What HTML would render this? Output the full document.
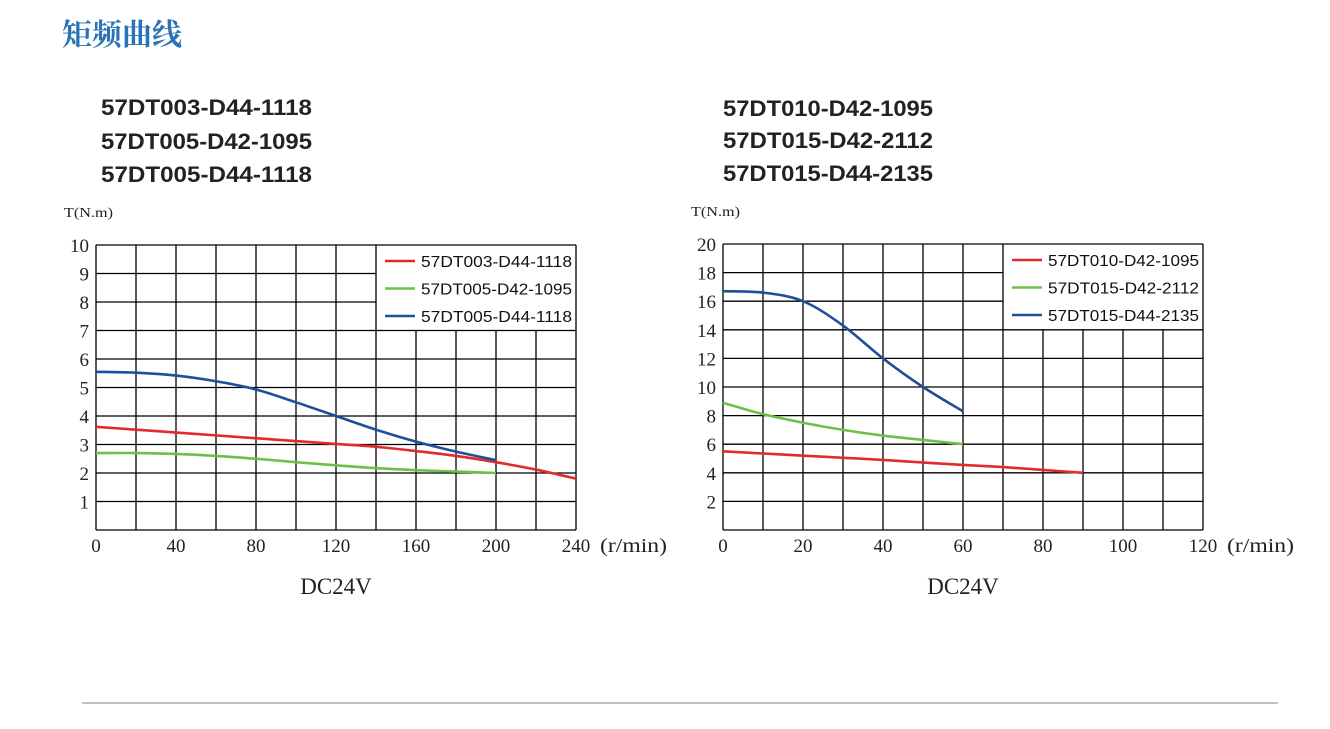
<!DOCTYPE html>
<html><head><meta charset="utf-8"><style>
html,body{margin:0;padding:0;background:#fff;width:1330px;height:729px;overflow:hidden}
svg text{font-family:"Liberation Sans","Noto Sans CJK SC",sans-serif}
.serif{font-family:"Liberation Serif","Noto Serif CJK SC",serif}
</style></head><body>
<svg id="s" width="1330" height="729" xmlns="http://www.w3.org/2000/svg">
<text x="62" y="45" font-size="30" font-weight="bold" fill="#2a72b6" style="font-family:'Noto Serif CJK SC',serif">矩频曲线</text>
<g font-size="22" font-weight="bold" fill="#222">
<text x="101" y="115" textLength="211" lengthAdjust="spacingAndGlyphs">57DT003-D44-1118</text>
<text x="101" y="149" textLength="211" lengthAdjust="spacingAndGlyphs">57DT005-D42-1095</text>
<text x="101" y="182" textLength="211" lengthAdjust="spacingAndGlyphs">57DT005-D44-1118</text>
</g>
<g font-size="22" font-weight="bold" fill="#222">
<text x="723" y="116" textLength="210" lengthAdjust="spacingAndGlyphs">57DT010-D42-1095</text>
<text x="723" y="148" textLength="210" lengthAdjust="spacingAndGlyphs">57DT015-D42-2112</text>
<text x="723" y="181" textLength="210" lengthAdjust="spacingAndGlyphs">57DT015-D44-2135</text>
</g>
<g id="left"></g>
<g id="right"></g>
<line x1="82" y1="703" x2="1278" y2="703" stroke="#999" stroke-width="1.2"/>
</svg>
<script>
const leftX=[0,20,40,60,80,100,120,140,160,180,200,220,240];
const leftRed=[3.62,3.52,3.42,3.32,3.22,3.12,3.02,2.92,2.77,2.6,2.38,2.12,1.8];
const leftGreen=[2.7,2.7,2.67,2.6,2.5,2.38,2.27,2.17,2.1,2.05,2.0];
const leftBlue=[5.55,5.52,5.42,5.22,4.93,4.48,4.0,3.52,3.1,2.75,2.45];
const leftNames=["57DT003-D44-1118","57DT005-D42-1095","57DT005-D44-1118"];
const leftXTicks=[0,40,80,120,160,200,240];
const leftYTicks=[1,2,3,4,5,6,7,8,9,10];
const rightX=[0,10,20,30,40,50,60,70,80,90];
const rightRed=[5.5,5.35,5.2,5.05,4.9,4.72,4.55,4.4,4.2,4.0];
const rightGreen=[8.9,8.1,7.5,7.0,6.6,6.3,6.0];
const rightBlue=[16.7,16.6,16.0,14.3,12.0,10.0,8.3];
const rightNames=["57DT010-D42-1095","57DT015-D42-2112","57DT015-D44-2135"];
const rightXTicks=[0,20,40,60,80,100,120];
const rightYTicks=[2,4,6,8,10,12,14,16,18,20];
const NS="http://www.w3.org/2000/svg";
function mk(p,tag,at){const e=document.createElementNS(NS,tag);for(const k in at)e.setAttribute(k,at[k]);p.appendChild(e);return e;}
function smooth(pts){let d="M"+pts[0][0]+","+pts[0][1];for(let i=0;i<pts.length-1;i++){const p0=pts[Math.max(i-1,0)],p1=pts[i],p2=pts[i+1],p3=pts[Math.min(i+2,pts.length-1)];const c1=[p1[0]+(p2[0]-p0[0])/6,p1[1]+(p2[1]-p0[1])/6],c2=[p2[0]-(p3[0]-p1[0])/6,p2[1]-(p3[1]-p1[1])/6];d+=" C"+c1+" "+c2+" "+p2;}return d;}
function chart(g,cfg){
 const {x0,x1,y0,y1,xmax,ymax,xs,series,names,xt,yt,xstep,ystep,prefix}=cfg;
 const sx=v=>x0+(x1-x0)*v/xmax, sy=v=>y1-(y1-y0)*v/ymax;
 const lx0=sx(xmax*7/12), ly1=sy(ymax*7/10);
 for(let v=0;v<=xmax;v+=xstep){const l=mk(g,"line",{x1:sx(v),x2:sx(v),y1:(sx(v)>lx0+1&&sx(v)<x1-1)?ly1:y0,y2:y1,stroke:"#000","stroke-width":1.3});
  
  }
 for(let v=0;v<=ymax;v+=ystep){const l=mk(g,"line",{x1:x0,x2:(sy(v)>y0+1&&sy(v)<ly1-1)?lx0:x1,y1:sy(v),y2:sy(v),stroke:"#000","stroke-width":1.3});
  
  }
 const cols=["#e02b2b","#6cc04a","#1f4f9c"];
 series.forEach((s,i)=>{const pts=s.map((v,j)=>[sx(xs[j]),sy(v)]);const p=mk(g,"path",{d:smooth(pts),fill:"none",stroke:cols[i],"stroke-width":2.6});
  
  
  const ly=y0+16+i*27.5;
  const ll=mk(g,"line",{x1:lx0+9,x2:lx0+39,y1:ly,y2:ly,stroke:cols[i],"stroke-width":2.6});
  
  
  const t=mk(g,"text",{x:lx0+45,y:ly+6,"font-size":16,fill:"#111",textLength:151,lengthAdjust:"spacingAndGlyphs"});t.textContent=names[i];
  
  });
 xt.forEach((v,i)=>{const t=mk(g,"text",{x:sx(v),y:y1+22,"font-size":19,"text-anchor":"middle",class:"serif",fill:"#222"});t.textContent=v;
  
  });
 yt.forEach(v=>{const t=mk(g,"text",{x:x0-7,y:sy(v)+7,"font-size":19,"text-anchor":"end",class:"serif",fill:"#222"});t.textContent=v;
  
  });
 const u=mk(g,"text",{x:x1+24,y:y1+22,"font-size":20,class:"serif",fill:"#222",textLength:67,lengthAdjust:"spacingAndGlyphs"});u.textContent="(r/min)";
 
 
 const ya=mk(g,"text",{x:x0-32,y:y0-28,"font-size":14,class:"serif",fill:"#222",textLength:49,lengthAdjust:"spacingAndGlyphs"});ya.textContent="T(N.m)";
 
 
 const dc=mk(g,"text",{x:(x0+x1)/2,y:y1+64,"font-size":23,class:"serif",fill:"#222","text-anchor":"middle"});dc.textContent="DC24V";
 
 
}
chart(document.getElementById('left'),{prefix:"left",x0:96,x1:576,y0:245,y1:530,xmax:240,ymax:10,xstep:20,ystep:1,xs:leftX,series:[leftRed,leftGreen,leftBlue],names:leftNames,xt:leftXTicks,yt:leftYTicks});
chart(document.getElementById('right'),{prefix:"right",x0:723,x1:1203,y0:244,y1:530,xmax:120,ymax:20,xstep:10,ystep:2,xs:rightX,series:[rightRed,rightGreen,rightBlue],names:rightNames,xt:rightXTicks,yt:rightYTicks});
</script>
</body></html>
